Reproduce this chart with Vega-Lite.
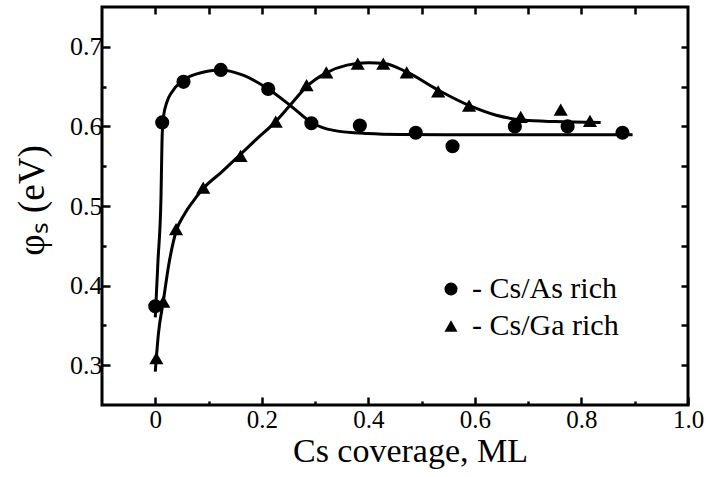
{
  "$schema": "https://vega.github.io/schema/vega-lite/v6.json",
  "width": 586,
  "height": 398,
  "autosize": "none",
  "padding": {"left": 102, "top": 7, "right": 18, "bottom": 72},
  "background": "white",
  "config": {
    "view": {"stroke": "black", "strokeWidth": 3},
    "axis": {"grid": false, "domain": false, "tickColor": "black", "tickWidth": 2.5}
  },
  "datasets": {
    "points": [
      {"x": 0.0, "y": 0.374, "series": "Cs/As rich"},
      {"x": 0.013, "y": 0.605, "series": "Cs/As rich"},
      {"x": 0.053, "y": 0.656, "series": "Cs/As rich"},
      {"x": 0.123, "y": 0.671, "series": "Cs/As rich"},
      {"x": 0.212, "y": 0.647, "series": "Cs/As rich"},
      {"x": 0.293, "y": 0.604, "series": "Cs/As rich"},
      {"x": 0.384, "y": 0.601, "series": "Cs/As rich"},
      {"x": 0.489, "y": 0.592, "series": "Cs/As rich"},
      {"x": 0.558, "y": 0.575, "series": "Cs/As rich"},
      {"x": 0.675, "y": 0.600, "series": "Cs/As rich"},
      {"x": 0.774, "y": 0.600, "series": "Cs/As rich"},
      {"x": 0.877, "y": 0.592, "series": "Cs/As rich"},
      {"x": 0.002, "y": 0.309, "series": "Cs/Ga rich"},
      {"x": 0.015, "y": 0.380, "series": "Cs/Ga rich"},
      {"x": 0.039, "y": 0.471, "series": "Cs/Ga rich"},
      {"x": 0.090, "y": 0.523, "series": "Cs/Ga rich"},
      {"x": 0.160, "y": 0.563, "series": "Cs/Ga rich"},
      {"x": 0.226, "y": 0.606, "series": "Cs/Ga rich"},
      {"x": 0.284, "y": 0.652, "series": "Cs/Ga rich"},
      {"x": 0.321, "y": 0.668, "series": "Cs/Ga rich"},
      {"x": 0.380, "y": 0.679, "series": "Cs/Ga rich"},
      {"x": 0.428, "y": 0.679, "series": "Cs/Ga rich"},
      {"x": 0.472, "y": 0.668, "series": "Cs/Ga rich"},
      {"x": 0.531, "y": 0.644, "series": "Cs/Ga rich"},
      {"x": 0.589, "y": 0.626, "series": "Cs/Ga rich"},
      {"x": 0.686, "y": 0.612, "series": "Cs/Ga rich"},
      {"x": 0.761, "y": 0.621, "series": "Cs/Ga rich"},
      {"x": 0.816, "y": 0.607, "series": "Cs/Ga rich"}
    ],
    "fit": [
      {"x": 0.0, "y": 0.36, "series": "As"},
      {"x": 0.005, "y": 0.43, "series": "As"},
      {"x": 0.0107, "y": 0.51, "series": "As"},
      {"x": 0.0126, "y": 0.58, "series": "As"},
      {"x": 0.015, "y": 0.61, "series": "As"},
      {"x": 0.022, "y": 0.631, "series": "As"},
      {"x": 0.031, "y": 0.643, "series": "As"},
      {"x": 0.05, "y": 0.657, "series": "As"},
      {"x": 0.078, "y": 0.666, "series": "As"},
      {"x": 0.123, "y": 0.671, "series": "As"},
      {"x": 0.166, "y": 0.664, "series": "As"},
      {"x": 0.212, "y": 0.647, "series": "As"},
      {"x": 0.254, "y": 0.626, "series": "As"},
      {"x": 0.293, "y": 0.605, "series": "As"},
      {"x": 0.335, "y": 0.595, "series": "As"},
      {"x": 0.398, "y": 0.591, "series": "As"},
      {"x": 0.46, "y": 0.5898, "series": "As"},
      {"x": 0.6, "y": 0.5895, "series": "As"},
      {"x": 0.896, "y": 0.5895, "series": "As"},
      {"x": 0.0, "y": 0.292, "series": "Ga"},
      {"x": 0.006, "y": 0.34, "series": "Ga"},
      {"x": 0.015, "y": 0.38, "series": "Ga"},
      {"x": 0.025, "y": 0.425, "series": "Ga"},
      {"x": 0.039, "y": 0.468, "series": "Ga"},
      {"x": 0.055, "y": 0.49, "series": "Ga"},
      {"x": 0.07, "y": 0.505, "series": "Ga"},
      {"x": 0.09, "y": 0.522, "series": "Ga"},
      {"x": 0.125, "y": 0.543, "series": "Ga"},
      {"x": 0.16, "y": 0.565, "series": "Ga"},
      {"x": 0.19, "y": 0.584, "series": "Ga"},
      {"x": 0.226, "y": 0.606, "series": "Ga"},
      {"x": 0.255, "y": 0.628, "series": "Ga"},
      {"x": 0.284, "y": 0.65, "series": "Ga"},
      {"x": 0.32, "y": 0.667, "series": "Ga"},
      {"x": 0.36, "y": 0.677, "series": "Ga"},
      {"x": 0.4, "y": 0.68, "series": "Ga"},
      {"x": 0.43, "y": 0.679, "series": "Ga"},
      {"x": 0.47, "y": 0.669, "series": "Ga"},
      {"x": 0.53, "y": 0.646, "series": "Ga"},
      {"x": 0.59, "y": 0.626, "series": "Ga"},
      {"x": 0.64, "y": 0.614, "series": "Ga"},
      {"x": 0.69, "y": 0.608, "series": "Ga"},
      {"x": 0.75, "y": 0.606, "series": "Ga"},
      {"x": 0.836, "y": 0.605, "series": "Ga"}
    ]
  },
  "resolve": {"axis": {"x": "independent", "y": "independent"}},
  "layer": [
    {
      "data": {"name": "fit"},
      "mark": {"type": "line", "color": "black", "strokeWidth": 3, "interpolate": "monotone", "clip": true},
      "encoding": {
        "x": {"field": "x", "type": "quantitative", "scale": {"domain": [-0.1, 1.0], "nice": false, "zero": false},
          "axis": {"orient": "bottom", "values": [0, 0.1, 0.2, 0.3, 0.4, 0.5, 0.6, 0.7, 0.8, 0.9, 1.0],
            "labelExpr": "abs(datum.value * 10 - 2 * round(datum.value * 5)) > 0.01 ? '' : (datum.value == 0 ? '0' : format(datum.value, '.1f'))",
            "tickSize": {"condition": {"test": "abs(datum.value * 10 - 2 * round(datum.value * 5)) > 0.01", "value": -4}, "value": -8},
            "labelPadding": 10, "labelFont": "Liberation Serif", "labelFontSize": 25, "labelColor": "black", "labelFlush": false, "labelOverlap": false,
            "title": "Cs coverage, ML", "titleFont": "Liberation Serif", "titleFontSize": 34, "titleFontWeight": "normal", "titleColor": "black", "titleX": 308, "titleY": 56, "titleBaseline": "alphabetic", "titleAlign": "center"}},
        "y": {"field": "y", "type": "quantitative", "scale": {"domain": [0.25, 0.75], "nice": false, "zero": false},
          "axis": {"orient": "left", "values": [0.3, 0.35, 0.4, 0.45, 0.5, 0.55, 0.6, 0.65, 0.7],
            "labelExpr": "abs(datum.value * 20 - 2 * round(datum.value * 10)) > 0.01 ? '' : format(datum.value, '.1f')",
            "tickSize": {"condition": {"test": "abs(datum.value * 20 - 2 * round(datum.value * 10)) > 0.01", "value": -4}, "value": -8},
            "labelPadding": 8, "labelFont": "Liberation Serif", "labelFontSize": 26, "labelColor": "black", "labelOverlap": false,
            "title": "φₛ (eV)", "titleFont": "Liberation Serif", "titleFontSize": 37, "titleFontWeight": "normal", "titleColor": "black", "titleAngle": -90, "titleX": -59, "titleY": 193, "titleBaseline": "alphabetic", "titleAlign": "center"}},
        "detail": {"field": "series"}
      }
    },
    {
      "data": {"name": "points"},
      "mark": {"type": "point", "filled": true, "color": "black", "opacity": 1, "size": 200},
      "encoding": {
        "x": {"field": "x", "type": "quantitative",
          "axis": {"orient": "top", "values": [0, 0.1, 0.2, 0.3, 0.4, 0.5, 0.6, 0.7, 0.8, 0.9], "labels": false, "tickSize": -7, "title": null}},
        "y": {"field": "y", "type": "quantitative",
          "axis": {"orient": "right", "values": [0.3, 0.35, 0.4, 0.45, 0.5, 0.55, 0.6, 0.65, 0.7], "labels": false, "tickSize": -7, "title": null}},
        "shape": {"field": "series", "type": "nominal",
          "scale": {"domain": ["Cs/As rich", "Cs/Ga rich"], "range": ["circle", "triangle-up"]},
          "legend": {"orient": "none", "legendX": 334, "legendY": 267, "title": null, "labelFont": "Liberation Serif", "labelFontSize": 30, "labelExpr": "'- ' + datum.label", "symbolSize": 170, "symbolFillColor": "black", "symbolStrokeWidth": 0, "rowPadding": 7, "labelOffset": 6, "labelColor": "black"}}
      }
    }
  ]
}
